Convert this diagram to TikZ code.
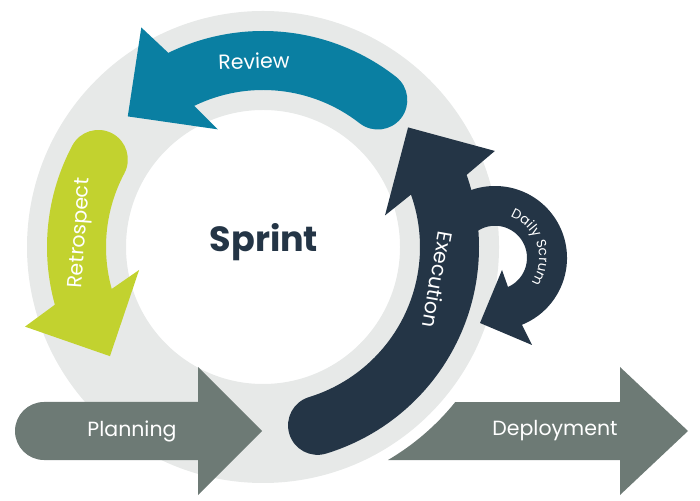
\documentclass[tikz,border=0pt]{standalone}
\usepackage{fontspec}
\setmainfont{Poppins}
\usetikzlibrary{calc}
\usetikzlibrary{positioning}
\usetikzlibrary{decorations.text}
\definecolor{ringGrey}{HTML}{E7E9E8}
\definecolor{reviewBlue}{HTML}{0A7FA2}
\definecolor{retroGreen}{HTML}{C2D22F}
\definecolor{execNavy}{HTML}{243546}
\definecolor{stepGrey}{HTML}{6D7A75}
\newcommand{\bandIn}{157}
\newcommand{\bandOut}{216}
\newcommand{\capR}{29.5}
\newcommand{\ringArrow}[3]{
	\fill[#3] (#1:\bandOut) arc[start angle=#1, end angle=#2, radius=\bandOut]
		-- ({#2+3}:251) -- ({#2+20}:188) -- ({#2-5}:126) -- (#2:\bandIn)
		arc[start angle=#2, end angle=#1, radius=\bandIn]
		arc[start angle={#1+180}, end angle={#1+360}, radius=\capR] -- cycle;
}
\tikzset{stageText/.style = {white, font=\fontsize{20.5}{24}\selectfont}}
\tikzset{stepArrow/.style = {fill=stepGrey}}

\begin{document}
\begin{tikzpicture}[x=1pt, y=1pt]
	\useasboundingbox (0,0) rectangle (700,500);
	\coordinate (C) at (263,253);
	\coordinate (L) at (495,242);

	\fill[ringGrey, even odd rule] (C) circle[radius=236] (C) circle[radius=137];

	\begin{scope}[shift={(C)}]
		\foreach \a/\b/\col in {52/116/reviewBlue, 152/195.5/retroGreen,
				-73/19.5/execNavy}
		{
			\ringArrow{\a}{\b}{\col}
		}
	\end{scope}

	\fill[execNavy] ($(L)+(170:72)$) arc[start angle=170, end angle=-68, radius=72]
		-- (532,155) -- (480,177) -- (502,230) -- (508,213)
		arc[start angle=-66, end angle=170, radius=32] -- cycle;
	\path[decorate, decoration={text along path, text color=white, text align=center,
			text={|\fontsize{13.5}{15}\selectfont|Daily Scrum}}]
		($(L)+(85:44)$) arc[start angle=85, end angle=-50, radius=44];

	\node[stageText, rotate=2] (review) at (254,439) {Review};
	\node[stageText, rotate=86] (retro) at (81,267) {Retrospect};
	\node[stageText, rotate=-100] (exec) at (438,220) {Execution};
	\node[text=execNavy, font=\fontsize{35}{42}\selectfont\bfseries] (sprint) at (264,258) {Sprint};

	\fill[stepArrow] (198,98) -- (44,98) arc[start angle=90, end angle=270, radius=29]
		-- (198,40) -- (198,5) -- (262,69) -- (198,133) -- cycle;
	\fill[stepArrow] ($(C)+(-59.6:247)$) arc[start angle=-59.6, end angle=-38.9, radius=247]
		-- (620,98) -- (620,133) -- (688,69) -- (620,5) -- (620,40) -- cycle;
	\node[stageText] (planning) at (132,69) {Planning};
	\node[stageText] (deploy) at (555,69) {Deployment};
\end{tikzpicture}
\end{document}
